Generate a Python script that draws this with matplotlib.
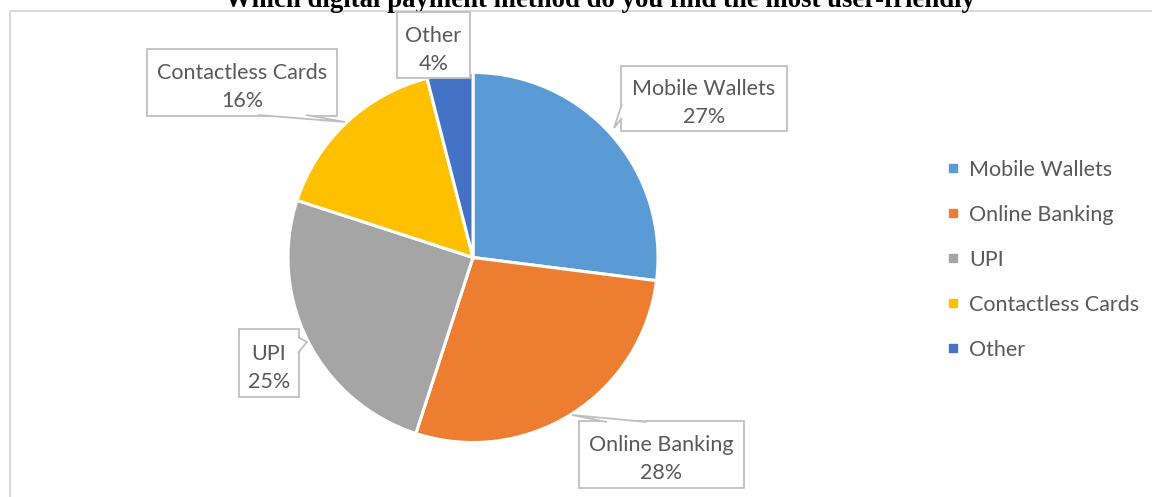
import matplotlib
matplotlib.use("Agg")
import matplotlib.pyplot as plt
from matplotlib.lines import Line2D
from matplotlib.patches import Polygon, Rectangle

# Survey answers (percent of respondents)
categories = ["Mobile Wallets", "Online Banking", "UPI", "Contactless Cards", "Other"]
shares = [27, 28, 25, 16, 4]
colors = ["#5B9BD5", "#ED7D31", "#A5A5A5", "#FFC000", "#4472C4"]
title = "Which digital payment method do you find the most user-friendly"

W, H = 1152, 497
fig = plt.figure(figsize=(W / 100, H / 100), dpi=100)
fig.patch.set_facecolor("white")

# overlay in pixel units (y downwards) for frame, title and callouts
ov = fig.add_axes([0, 0, 1, 1])
ov.set_xlim(0, W)
ov.set_ylim(H, 0)
ov.axis("off")

# pie axes
cx, cy, r = 473, 257.5, 185
pie_ax = fig.add_axes([(cx - r) / W, (H - cy - r) / H, 2 * r / W, 2 * r / H])
wedges, _ = pie_ax.pie(shares, colors=colors, startangle=90, counterclock=False,
                       wedgeprops=dict(edgecolor="white", linewidth=2.2))
pie_ax.set_xlim(-1, 1)
pie_ax.set_ylim(-1, 1)
pie_ax.set_aspect("equal")
pie_ax.axis("off")

frame_c = "#D9D9D9"
ov.plot([10, W], [11, 11], color=frame_c, lw=1.5, solid_capstyle="butt")
ov.plot([10, 10], [11, H], color=frame_c, lw=1.5, solid_capstyle="butt")

ov.text(600, 7, title, ha="center", va="baseline", fontsize=19.3,
        fontweight="bold", family="Liberation Serif", color="black")

label_font = "Lato"
text_c = "#595959"
box_c = "#BFBFBF"

# callout boxes: (left, top, right, bottom) and pointer polygon
callouts = {
    "Mobile Wallets": ((621, 66, 787, 131), [(622, 104), (614, 128), (622, 118)]),
    "Online Banking": ((579, 421, 744, 488), [(607, 422), (572, 415), (647, 422)]),
    "UPI": ((239, 329, 299, 397), [(298, 337), (307, 342), (298, 353)]),
    "Contactless Cards": ((147, 49, 337, 116), [(258, 115), (345, 122), (306, 115)]),
    "Other": ((397, 12, 470, 78), None),
}

for name, val in zip(categories, shares):
    (x0, y0, x1, y1), ptr = callouts[name]
    ov.add_patch(Rectangle((x0, y0), x1 - x0, y1 - y0, facecolor="white",
                           edgecolor=box_c, lw=1.3, zorder=3))
    if ptr is not None:
        ov.add_patch(Polygon(ptr, closed=False, facecolor="white",
                             edgecolor=box_c, lw=1.3, zorder=4))
    ov.text((x0 + x1) / 2, (y0 + y1) / 2 + 4.5, f"{name}\n{val}%", ha="center",
            va="center", fontsize=15.5, family=label_font, color=text_c,
            linespacing=1.5, zorder=5)

ov.set_zorder(2)
pie_ax.set_zorder(1)
ov.patch.set_alpha(0)

handles = [Line2D([], [], marker="s", linestyle="none", markersize=6,
                  markerfacecolor=c, markeredgecolor=c) for c in colors]
leg = fig.legend(handles, categories, loc="upper left",
                 bbox_to_anchor=(938 / W, 1 - 151 / H), frameon=False,
                 prop=dict(family=label_font, size=15.5), labelcolor=text_c,
                 handlelength=0.6, handletextpad=0.45, labelspacing=1.16,
                 borderaxespad=0)

fig.savefig("out.png", dpi=100, facecolor="white")
